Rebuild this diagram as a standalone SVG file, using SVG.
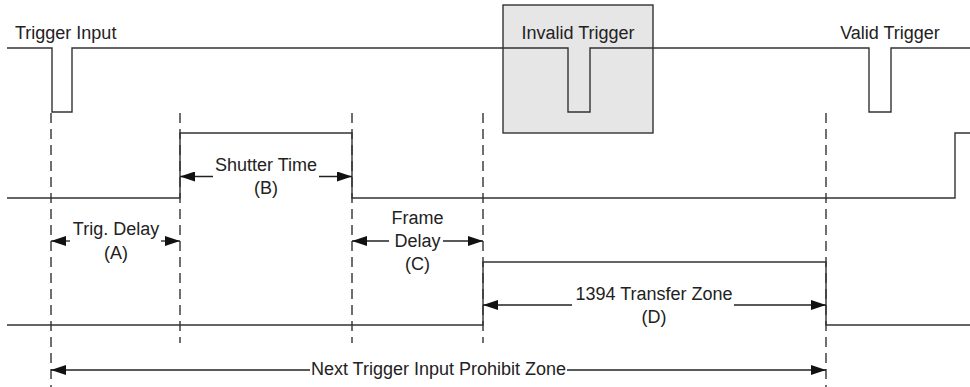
<svg xmlns="http://www.w3.org/2000/svg" width="970" height="387" viewBox="0 0 970 387">
<style>
.sig{fill:none;stroke:#333;stroke-width:1.4}
.dash{fill:none;stroke:#333;stroke-width:1.4;stroke-dasharray:10,6}
.dim{fill:none;stroke:#222;stroke-width:1.3;marker-end:url(#ah)}
text{font-family:"Liberation Sans",Arial,sans-serif;font-size:18px;fill:#222}
.c{text-anchor:middle}
</style>
<defs>
<marker id="ah" viewBox="0 0 15 10" refX="15" refY="5" markerWidth="15" markerHeight="10" markerUnits="userSpaceOnUse" orient="auto">
<path d="M0,0 L15,5 L0,10 z" fill="#111"/>
</marker>
</defs>
<rect width="970" height="387" fill="#fff"/>
<g id="invalid-box"><rect x="503" y="5" width="150" height="128" fill="#e6e6e6" stroke="#333" stroke-width="1.4"/></g>
<g id="trigger-signal">
<path class="sig" d="M7,48 H52 V112 H72 V48 H568 V112 H590 V48 H869 V112 H891 V48 H970"/>
<text x="15" y="39">Trigger Input</text>
<text class="c" x="578" y="39">Invalid Trigger</text>
<text class="c" x="890" y="39">Valid Trigger</text>
</g>
<g id="shutter-signal"><path class="sig" d="M7,198 H180 V133 H352 V198 H955 V133 H970"/></g>
<g id="transfer-signal"><path class="sig" d="M7,325 H483 V262 H826 V325 H970"/></g>
<g id="guides">
<line class="dash" x1="51" y1="113" x2="51" y2="387"/>
<line class="dash" x1="180" y1="113" x2="180" y2="343"/>
<line class="dash" x1="352" y1="113" x2="352" y2="343"/>
<line class="dash" x1="483" y1="113" x2="483" y2="343"/>
<line class="dash" x1="826" y1="113" x2="826" y2="387"/>
</g>
<g id="connectors">
<line class="dim" x1="70" y1="241" x2="51" y2="241"/>
<line class="dim" x1="161" y1="241" x2="180" y2="241"/>
<line class="dim" x1="213" y1="176.5" x2="180" y2="176.5"/>
<line class="dim" x1="319" y1="176.5" x2="352" y2="176.5"/>
<line class="dim" x1="389" y1="241" x2="352" y2="241"/>
<line class="dim" x1="443" y1="241" x2="483" y2="241"/>
<line class="dim" x1="572" y1="305" x2="483" y2="305"/>
<line class="dim" x1="734" y1="305" x2="826" y2="305"/>
<line class="dim" x1="310" y1="370" x2="51" y2="370"/>
<line class="dim" x1="567" y1="370" x2="826" y2="370"/>
</g>
<g id="label-a"><text class="c" x="116" y="235">Trig. Delay</text><text class="c" x="116" y="259">(A)</text></g>
<g id="label-b"><text class="c" x="266" y="171">Shutter Time</text><text class="c" x="266" y="194">(B)</text></g>
<g id="label-c"><text class="c" x="417.5" y="224">Frame</text><text class="c" x="417.5" y="247">Delay</text><text class="c" x="417.5" y="270">(C)</text></g>
<g id="label-d"><text class="c" x="654" y="300">1394 Transfer Zone</text><text class="c" x="654" y="323">(D)</text></g>
<g id="label-prohibit"><text class="c" x="438.5" y="375">Next Trigger Input Prohibit Zone</text></g>
</svg>
